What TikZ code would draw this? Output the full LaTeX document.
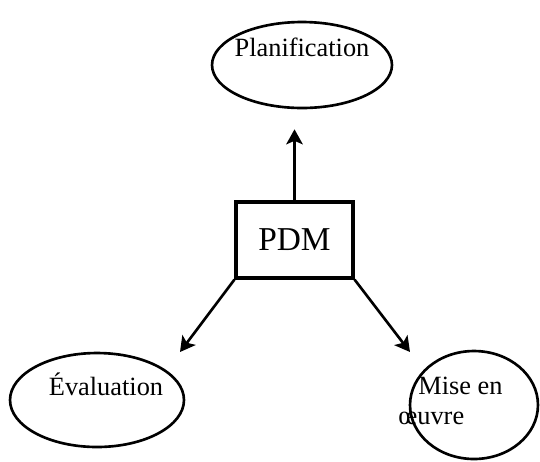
\documentclass[tikz,border=0pt]{standalone}
\usepackage{fontspec}
\setmainfont{Liberation Serif}
\usetikzlibrary{shapes.geometric,arrows.meta,positioning}

\begin{document}
\begin{tikzpicture}[x=0.02cm, y=-0.02cm,
    phase/.style={ellipse, draw, line width=1.5pt, inner sep=0pt},
    lbl/.style={inner sep=0pt, font=\fontsize{15}{17}\selectfont},
    pdmbox/.style={rectangle, draw, line width=1.8pt, minimum width=2.34cm,
        minimum height=1.52cm, font=\fontsize{19}{22}\selectfont},
    arr/.style={-{Stealth[length=3mm, width=3.3mm, inset=0.7mm]}, line width=1.5pt}
]
    \useasboundingbox (0,0) rectangle (540,461);
    \node[pdmbox] (pdm) at (294.5,240) {PDM};
    \node[phase, minimum width=3.6cm, minimum height=1.72cm] (plan) at (302,65) {};
    \node[phase, minimum width=3.48cm, minimum height=1.88cm] (eval) at (97,400) {};
    \node[phase, minimum width=2.56cm, minimum height=2.16cm] (mise) at (474,405) {};
    \node[lbl, anchor=base] (plantxt) at (302,56) {Planification};
    \node[lbl, anchor=base] (evaltxt) at (106,395) {Évaluation};
    \node[lbl, anchor=west, align=left] (misetxt) at (398,401) {\hspace*{0.4cm}Mise en\\œuvre};
    \coordinate (evaltip) at (180,352);
    \coordinate (misetip) at (410,352);

    \draw[arr] (pdm.north) -- ([yshift=-0.4cm]pdm.north |- plan.south);
    \draw[arr] (pdm.south west) -- (evaltip);
    \draw[arr] (pdm.south east) -- (misetip);
\end{tikzpicture}
\end{document}
